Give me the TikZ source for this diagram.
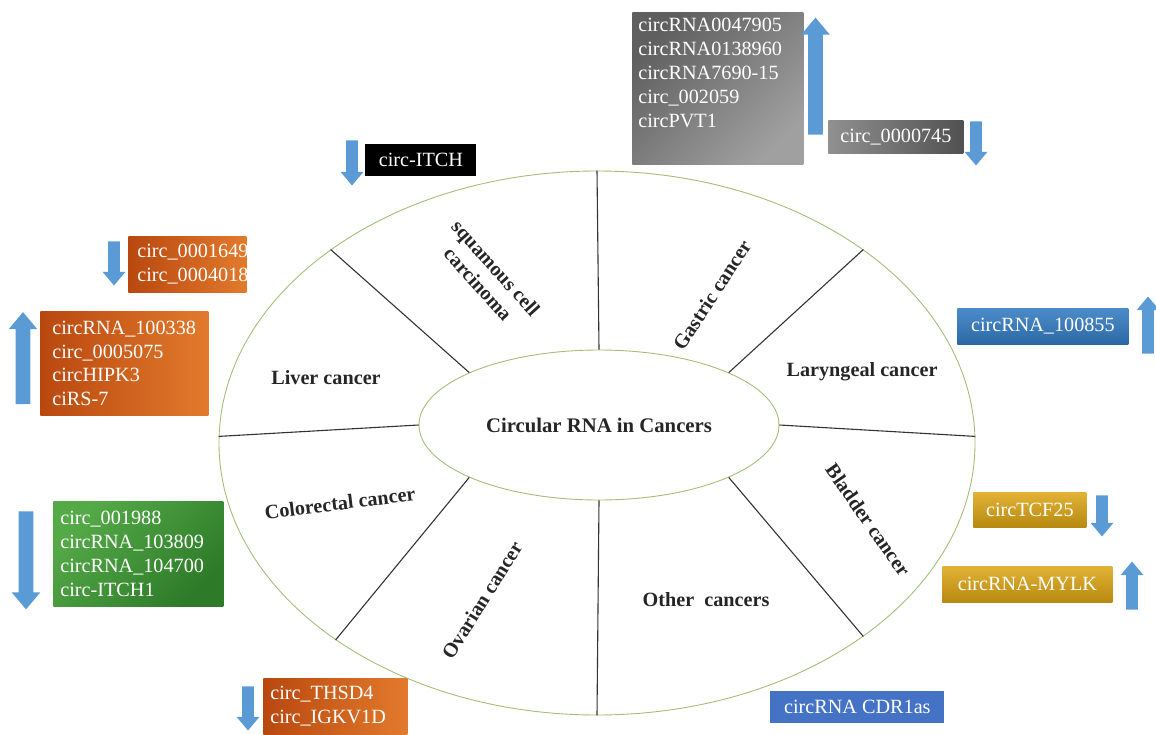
\documentclass[tikz,border=0pt]{standalone}
\usepackage{fontspec}
\setmainfont{Liberation Serif}
\usetikzlibrary{shapes.geometric,shapes.arrows}
\tikzset{line cap=round,line join=round}

\newlength\pxu
\setlength\pxu{0.02cm}
\definecolor{arrowblue}{HTML}{5B9BD5}
\definecolor{ringgreen}{HTML}{A3BE78}
\definecolor{graydark}{HTML}{5F5F5F}
\definecolor{graylight}{HTML}{A0A0A0}
\definecolor{orangedark}{HTML}{B9480F}
\definecolor{orangelight}{HTML}{E27A2C}
\definecolor{greenlight}{HTML}{55AA48}
\definecolor{greendark}{HTML}{2D7A28}
\definecolor{bluelight}{HTML}{4C8BC9}
\definecolor{bluedark}{HTML}{2C68A6}
\definecolor{cdrblue}{HTML}{4472C4}
\definecolor{goldlight}{HTML}{E2B236}
\definecolor{golddark}{HTML}{B7890F}

\begin{document}
\begin{tikzpicture}[x=0.02cm,y=-0.02cm,
    ring/.style={ellipse, draw=ringgreen, line width=0.9\pxu, inner sep=0pt},
    spoke/.style={draw=black!80, line width=1.1\pxu},
    sector/.style={font=\fontsize{11.5}{13.6}\selectfont\bfseries, align=center, text=black!85},
    rnabox/.style={font=\fontsize{11.5}{13.6}\selectfont, text=white, anchor=north west, inner ysep=0pt},
    blockarrow/.style={single arrow, fill=arrowblue, inner xsep=0pt, inner ysep=5.5\pxu,
        single arrow head extend=5.5\pxu, single arrow head indent=0pt, single arrow tip angle=80},
    bigarrow/.style={blockarrow, inner ysep=7\pxu, single arrow head extend=7\pxu},
    uparrow/.style={rotate=90},
    downarrow/.style={rotate=-90},
    ]
    \useasboundingbox (0,0) rectangle (1156,734);

    % the two rings and the spokes between them
    \node[ring, minimum width=756\pxu, minimum height=544\pxu] (outer) at (597,443) {};
    \node[ring, minimum width=360\pxu, minimum height=150\pxu, font=\fontsize{11.8}{14}\selectfont\bfseries,
        text=black!85] (inner) at (599,425) {Circular RNA in Cancers};
    \foreach \a/\b in {90/90, 22/36, 0/1, -22/-36, -90/-90, -158.5/-143.5, 180/179.5, 158/144}{%
        \draw[spoke] (inner.\a) -- (outer.\b);
    }

    % sector labels
    \node[sector, rotate=-48] (squamous) at (487,276) {squamous cell\\carcinoma};
    \node[sector, rotate=57] (gastric) at (712,295) {Gastric cancer};
    \node[sector] (laryngeal) at (862,372) {Laryngeal cancer};
    \node[sector, rotate=-55] (bladder) at (868,520) {Bladder cancer};
    \node[sector] (other) at (706,600) {Other\ \ cancers};
    \node[sector, rotate=58] (ovarian) at (482,600) {Ovarian cancer};
    \node[sector, rotate=7] (colorectal) at (340,503) {Colorectal cancer};
    \node[sector] (liver) at (326,378) {Liver cancer};

    % circRNA boxes
    \node[rnabox, top color=graydark, bottom color=graylight, shading angle=45, align=left,
        text width=159\pxu, inner xsep=6\pxu, minimum height=152\pxu] (gastric-up) at (632,12)
        {circRNA0047905\\circRNA0138960\\circRNA7690-15\\circ\_002059\\circPVT1\\\strut};
    \node[rnabox, left color=graylight!90!black, right color=graydark!85!black,
        minimum width=135\pxu, minimum height=33\pxu] (gastric-down) at (828,120) {circ\_0000745};
    \node[rnabox, fill=black, minimum width=111\pxu, minimum height=32\pxu] (squamous-down) at (365,144) {circ-ITCH};
    \node[rnabox, left color=orangedark, right color=orangelight, align=left,
        text width=100\pxu, inner xsep=9\pxu, minimum height=56\pxu] (liver-down) at (128,236)
        {circ\_0001649\\circ\_0004018};
    \node[rnabox, left color=orangedark, right color=orangelight, align=left,
        text width=144\pxu, inner xsep=12\pxu, minimum height=104\pxu] (liver-up) at (40,311)
        {circRNA\_100338\\circ\_0005075\\circHIPK3\\ciRS-7};
    \node[rnabox, top color=greenlight, bottom color=greendark, shading angle=45, align=left,
        text width=156\pxu, inner xsep=7\pxu, minimum height=105\pxu] (colorectal-down) at (53,501)
        {circ\_001988\\circRNA\_103809\\circRNA\_104700\\circ-ITCH1};
    \node[rnabox, left color=orangedark, right color=orangelight, align=left,
        text width=130\pxu, inner xsep=7\pxu, minimum height=56\pxu] (ovarian-down) at (263,678)
        {circ\_THSD4\\circ\_IGKV1D};
    \node[rnabox, fill=cdrblue, minimum width=174\pxu, minimum height=32\pxu] (other-box) at (770,691) {circRNA CDR1as};
    \node[rnabox, top color=bluelight, bottom color=bluedark, minimum width=171\pxu,
        minimum height=36\pxu] (laryngeal-up) at (957,308) {circRNA\_100855};
    \node[rnabox, top color=goldlight, bottom color=golddark, minimum width=113\pxu,
        minimum height=35\pxu] (bladder-down) at (973,492) {circTCF25};
    \node[rnabox, top color=goldlight, bottom color=golddark, minimum width=170\pxu,
        minimum height=36\pxu] (bladder-up) at (942,566) {circRNA-MYLK};

    % up and down arrows
    \node[bigarrow, uparrow, minimum height=117\pxu] (gastric-up-arrow) at (815.5,80.5) {};
    \node[blockarrow, downarrow, minimum height=44\pxu] (gastric-down-arrow) at (976,140) {};
    \node[blockarrow, downarrow, minimum height=45\pxu] (squamous-down-arrow) at (352,159.5) {};
    \node[blockarrow, downarrow, minimum height=44\pxu] (liver-down-arrow) at (114,260) {};
    \node[bigarrow, uparrow, minimum height=92\pxu] (liver-up-arrow) at (23,362.5) {};
    \node[bigarrow, downarrow, minimum height=98\pxu] (colorectal-down-arrow) at (26,556) {};
    \node[blockarrow, downarrow, minimum height=44\pxu] (ovarian-down-arrow) at (248,705) {};
    \node[blockarrow, uparrow, minimum height=57\pxu] (laryngeal-up-arrow) at (1148,328.5) {};
    \node[blockarrow, downarrow, minimum height=41\pxu] (bladder-down-arrow) at (1102,512.5) {};
    \node[blockarrow, uparrow, minimum height=48\pxu] (bladder-up-arrow) at (1132,589) {};
\end{tikzpicture}
\end{document}
